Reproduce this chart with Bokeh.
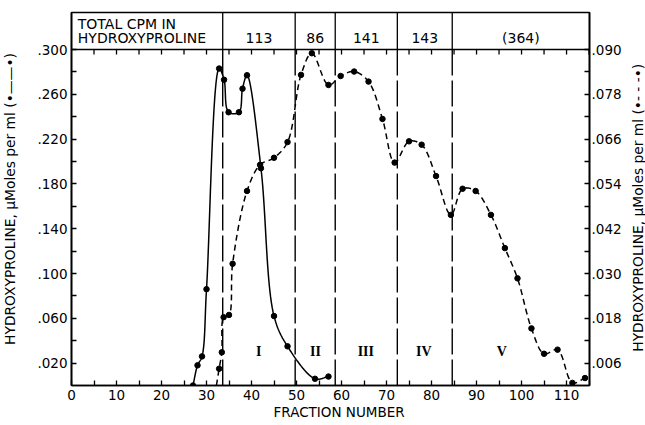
import math
import numpy as np
from bokeh.plotting import figure
from bokeh.models import Range1d, LinearAxis, FixedTicker, Span
from bokeh.layouts import row
from bokeh.embed import file_html
from bokeh.resources import INLINE
from bokeh.core.properties import value

# ---------------- data ----------------
SOLID_FRACTION = [27.0, 28.0, 29.0, 30.0, 32.8, 33.9, 34.9, 37.2, 38.0, 39.0,
                  42.1, 45.0, 48.0, 54.1, 57.1]
SOLID_HYP = [0.000, 0.018, 0.026, 0.086, 0.283, 0.273, 0.244, 0.244, 0.265, 0.277,
             0.194, 0.062, 0.035, 0.006, 0.008]

DASHED_FRACTION = [32.2, 32.8, 33.4, 33.8, 35.0, 35.8, 39.0, 41.9, 45.0, 48.0,
                   51.0, 53.4, 57.1, 59.8, 62.8, 66.0, 69.1, 71.8, 75.0, 77.8,
                   81.0, 84.3, 86.9, 89.8, 93.2, 96.3, 99.1, 102.2, 105.0, 108.0,
                   111.3, 114.1]
DASHED_HYP = [0.0000, 0.0045, 0.0089, 0.0183, 0.0189, 0.0326, 0.0521, 0.0591, 0.0610, 0.0652,
              0.0832, 0.0890, 0.0805, 0.0829, 0.0841, 0.0814, 0.0714, 0.0597, 0.0654, 0.0645,
              0.0561, 0.0457, 0.0527, 0.0521, 0.0457, 0.0368, 0.0287, 0.0153, 0.0085, 0.0096,
              0.0007, 0.0020]

DIVIDERS = [33.6, 49.7, 58.6, 72.4, 84.6]
HEADER_TITLE = ["TOTAL CPM IN", "HYDROXYPROLINE"]
HEADER_VALUES = ["113", "86", "141", "143", "(364)"]
ROMAN = ["I", "II", "III", "IV", "V"]
ROMAN_X = [41.6, 54.2, 65.4, 78.3, 95.6]

X_TICKS = [0, 10, 20, 30, 40, 50, 60, 70, 80, 90, 100, 110]
X_MINOR = [5, 15, 25, 35, 45, 55, 65, 75, 85, 95, 105, 115]
LEFT_LABELS = [".020", ".060", ".100", ".140", ".180", ".220", ".260", ".300"]
LEFT_MINOR = [0.04, 0.08, 0.12, 0.16, 0.20, 0.24, 0.28]
RIGHT_LABELS = [".006", ".018", ".030", ".042", ".054", ".066", ".078", ".090"]
RIGHT_MINOR = [0.012, 0.024, 0.036, 0.048, 0.060, 0.072, 0.084]

X_TITLE = "FRACTION  NUMBER"
LEFT_TITLE = "HYDROXYPROLINE, \u00b5Moles per ml  (\u2022\u2014\u2014\u2022)"
RIGHT_TITLE = "HYDROXYPROLINE, \u00b5Moles per ml  (\u2022- - -\u2022)"

X_MAX = 115.1
LEFT_MAX = 0.300
RIGHT_MAX = 0.090

FONT = "DejaVu Sans"

# ---------------- layout geometry (pixels) ----------------
SIDE_L, SIDE_R = 20, 16          # strips that carry the rotated axis titles
BORDER_L, BORDER_R = 71, 56      # frame offset from page edges
FRAME_W, PLOT_H = 518, 336       # data area
HDR_TOP, HDR_H = 12, 37          # header box above the data area
BOTTOM = 40
TOTAL_H = HDR_TOP + HDR_H + PLOT_H + BOTTOM
PX_X = FRAME_W / X_MAX
PX_Y = PLOT_H / LEFT_MAX
Y_TOP = LEFT_MAX + HDR_H / PX_Y          # top of header box in left units


def smooth(xs, ys, sx, sy, n=24):
    """Centripetal Catmull-Rom path through the data points (drawing only)."""
    P = np.column_stack([np.asarray(xs, float) * sx, np.asarray(ys, float) * sy])
    P = np.vstack([2 * P[0] - P[1], P, 2 * P[-1] - P[-2]])
    out = [P[1]]
    for i in range(1, len(P) - 2):
        p0, p1, p2, p3 = P[i - 1], P[i], P[i + 1], P[i + 2]
        d01 = max(np.linalg.norm(p1 - p0), 1e-6) ** 0.5
        d12 = max(np.linalg.norm(p2 - p1), 1e-6) ** 0.5
        d23 = max(np.linalg.norm(p3 - p2), 1e-6) ** 0.5
        t0, t1 = 0.0, d01
        t2 = t1 + d12
        t3 = t2 + d23
        for t in np.linspace(t1, t2, n)[1:]:
            a1 = (t1 - t) / (t1 - t0) * p0 + (t - t0) / (t1 - t0) * p1
            a2 = (t2 - t) / (t2 - t1) * p1 + (t - t1) / (t2 - t1) * p2
            a3 = (t3 - t) / (t3 - t2) * p2 + (t - t2) / (t3 - t2) * p3
            b1 = (t2 - t) / (t2 - t0) * a1 + (t - t0) / (t2 - t0) * a2
            b2 = (t3 - t) / (t3 - t1) * a2 + (t - t1) / (t3 - t1) * a3
            c = (t2 - t) / (t2 - t1) * b1 + (t - t1) / (t2 - t1) * b2
            out.append(c)
    out = np.array(out)
    return out[:, 0] / sx, out[:, 1] / sy


def blank_fig(w, h, xr, yr, **kw):
    f = figure(width=w, height=h, x_range=xr, y_range=yr, output_backend="svg",
               toolbar_location=None, x_axis_location=None, y_axis_location=None, **kw)
    f.grid.visible = False
    f.background_fill_color = "white"
    f.border_fill_color = "white"
    f.outline_line_color = None
    return f


# ---------------- main plot (data area + header box) ----------------
p = figure(width=BORDER_L + FRAME_W + BORDER_R - SIDE_L - SIDE_R, height=TOTAL_H,
           x_range=Range1d(0, X_MAX), y_range=Range1d(0, Y_TOP),
           output_backend="svg", toolbar_location=None,
           min_border_left=BORDER_L - SIDE_L, min_border_right=BORDER_R - SIDE_R,
           min_border_top=HDR_TOP, min_border_bottom=BOTTOM)
p.extra_y_ranges = {"right": Range1d(0, RIGHT_MAX * Y_TOP / LEFT_MAX)}
p.grid.visible = False
p.outline_line_color = "black"
p.outline_line_width = 1.6
p.background_fill_color = "white"
p.border_fill_color = "white"

xa = p.xaxis[0]
xa.ticker = FixedTicker(ticks=X_TICKS, minor_ticks=X_MINOR)
xa.axis_label = "\u00a0" * 5 + X_TITLE

ya = p.yaxis[0]
left_ticks = [float(s) for s in LEFT_LABELS]
ya.ticker = FixedTicker(ticks=left_ticks, minor_ticks=LEFT_MINOR)
ya.major_label_overrides = {t: s for t, s in zip(left_ticks, LEFT_LABELS)}

right_ticks = [float(s) for s in RIGHT_LABELS]
ra = LinearAxis(y_range_name="right",
                ticker=FixedTicker(ticks=right_ticks, minor_ticks=RIGHT_MINOR),
                major_label_overrides={t: s for t, s in zip(right_ticks, RIGHT_LABELS)})
p.add_layout(ra, "right")

for ax in [xa, ya, ra]:
    ax.axis_line_color = "black"
    ax.axis_line_width = 1.6
    ax.major_tick_in = 5
    ax.major_tick_out = 0
    ax.minor_tick_in = 5
    ax.minor_tick_out = 0
    ax.major_tick_line_color = "black"
    ax.minor_tick_line_color = "black"
    ax.major_tick_line_width = 1.3
    ax.minor_tick_line_width = 1.3
    ax.major_label_text_font = FONT
    ax.major_label_text_font_size = "13.5px"
    ax.major_label_text_color = "black"

xa.major_label_standoff = 4
xa.axis_label_standoff = 1
xa.axis_label_text_font = FONT
xa.axis_label_text_font_size = "13.5px"
xa.axis_label_text_font_style = "normal"
xa.axis_label_text_color = "black"
ya.major_label_standoff = 4
ra.major_label_standoff = 2

# header box: bottom rule, cell dividers and texts
p.add_layout(Span(location=LEFT_MAX, dimension="width", line_color="black", line_width=1.6))
n_div = len(DIVIDERS)
p.segment(x0=DIVIDERS, y0=[LEFT_MAX] * n_div, x1=DIVIDERS, y1=[Y_TOP] * n_div,
          line_color="black", line_width=1.3)
hdr_line1 = LEFT_MAX + (HDR_H * 0.69) / PX_Y
hdr_line2 = LEFT_MAX + (HDR_H * 0.30) / PX_Y
p.text(x=[1.4, 1.4], y=[hdr_line1, hdr_line2], text=HEADER_TITLE,
       text_font=value(FONT), text_font_size="14px", text_color="black",
       text_align="left", text_baseline="middle")
edges = DIVIDERS + [X_MAX]
centers = [(edges[i] + edges[i + 1]) / 2 for i in range(len(HEADER_VALUES))]
p.text(x=centers, y=[hdr_line2] * len(centers), text=HEADER_VALUES,
       text_font=value(FONT), text_font_size="14px", text_color="black",
       text_align="center", text_baseline="middle")

# ticks hanging from the header rule
top_ticks = X_TICKS[1:] + X_MINOR
tick_len = 5 / PX_Y
p.segment(x0=top_ticks, y0=[LEFT_MAX] * len(top_ticks), x1=top_ticks,
          y1=[LEFT_MAX - tick_len] * len(top_ticks), line_color="black", line_width=1.3)

# region dividers in the data area
p.segment(x0=DIVIDERS, y0=[0] * n_div, x1=DIVIDERS, y1=[LEFT_MAX] * n_div,
          line_color="black", line_width=1.4, line_dash="26 5")

# solid series (left axis)
sxs, sys_ = smooth(SOLID_FRACTION, SOLID_HYP, PX_X, PX_Y)
p.line(sxs, sys_, line_color="black", line_width=1.5)
p.scatter(SOLID_FRACTION, SOLID_HYP, size=5.5, color="black")

# dashed series (right axis)
dxs, dys = smooth(DASHED_FRACTION, DASHED_HYP, PX_X, PLOT_H / RIGHT_MAX)
dys = np.minimum(dys, RIGHT_MAX)
p.line(dxs, dys, line_color="black", line_width=1.5, line_dash="6 4", y_range_name="right")
p.scatter(DASHED_FRACTION[1:], DASHED_HYP[1:], size=5.5, color="black", y_range_name="right")

# region numerals
p.text(x=ROMAN_X, y=[0.030] * len(ROMAN), text=ROMAN,
       text_font=value("Liberation Serif"), text_font_style="bold", text_font_size="14px",
       text_color="black", text_align="center", text_baseline="middle")

# ---------------- side strips with rotated axis titles (pixel coordinates) ----------------
left_strip = blank_fig(SIDE_L, TOTAL_H, Range1d(0, SIDE_L), Range1d(TOTAL_H, 0), min_border=0)
left_strip.text(x=[9], y=[210], text=[LEFT_TITLE], angle=math.pi / 2,
                text_font=value(FONT), text_font_size="13.8px", text_color="black",
                text_align="center", text_baseline="middle")

right_strip = blank_fig(SIDE_R, TOTAL_H, Range1d(0, SIDE_R), Range1d(TOTAL_H, 0), min_border=0)
right_strip.text(x=[8.5], y=[220], text=[RIGHT_TITLE], angle=math.pi / 2,
                 text_font=value(FONT), text_font_size="13.8px", text_color="black",
                 text_align="center", text_baseline="middle")

layout = row(left_strip, p, right_strip)
open("out.html", "w").write(file_html(layout, INLINE))
